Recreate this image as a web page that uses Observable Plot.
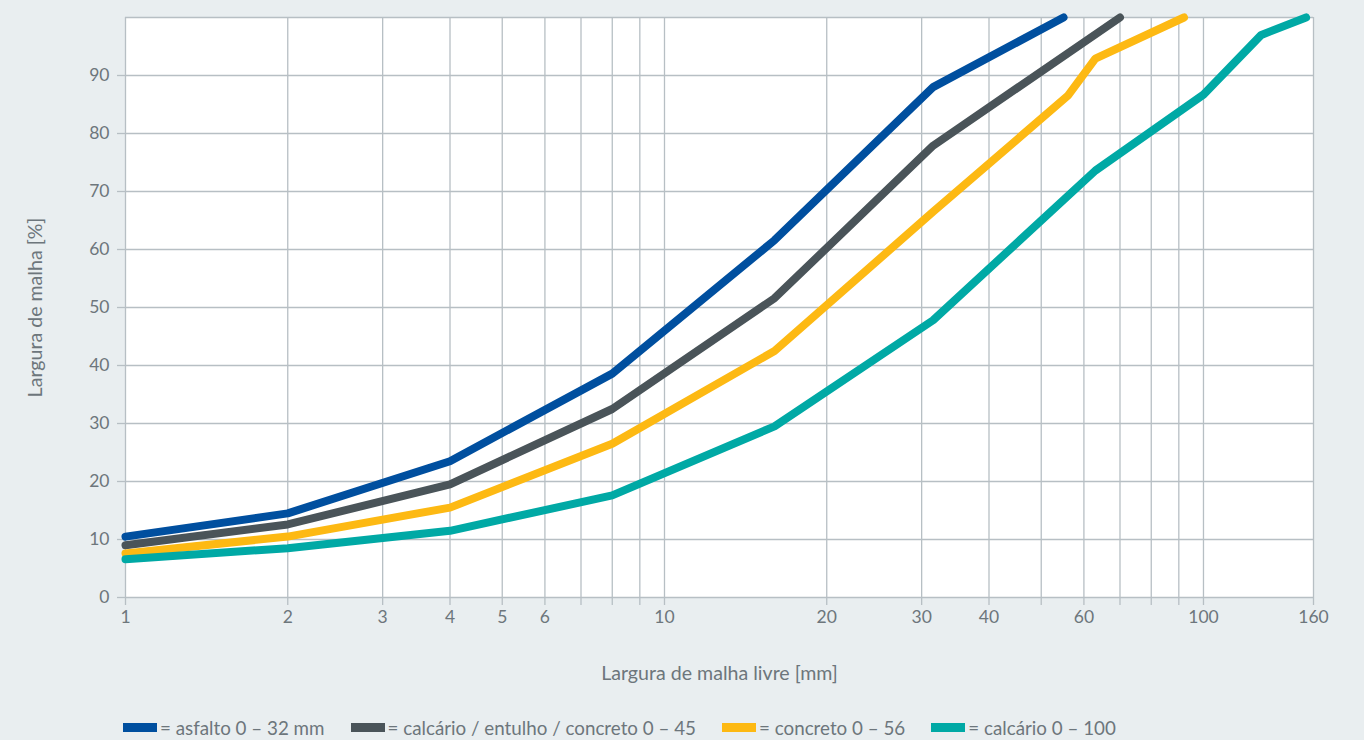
<!DOCTYPE html>
<html>
<head>
<meta charset="utf-8">
<script src="https://cdn.jsdelivr.net/npm/d3@7"></script>
<script src="https://cdn.jsdelivr.net/npm/@observablehq/plot@0.6"></script>
<style>
  html, body { margin: 0; padding: 0; background: #e9eef0; }
  body { width: 1364px; height: 740px; overflow: hidden; font-family: Lato, "Open Sans", sans-serif; color: #6d767c; }
  #legend { position: absolute; left: 123px; top: 716px; height: 23px; display: flex; font-size: 18.8px; line-height: 23px; white-space: nowrap; }
  .item { display: flex; align-items: center; margin-right: 26px; }
  .sw { width: 34px; height: 9px; margin-right: 3px; }
  svg g[aria-label="x-axis label"] text, svg g[aria-label="y-axis label"] text { font-size: 19.6px; }
</style>
</head>
<body>
<div id="chart"></div>
<div id="legend"></div>
<script>
const seriesNames = ["asfalto 0 – 32 mm", "calcário / entulho / concreto 0 – 45", "concreto 0 – 56", "calcário 0 – 100"];
const seriesColors = ["#004f9f", "#4a5459", "#fdb913", "#00a9a5"];

const asfaltoX = [1, 2, 4, 8, 16, 31.5, 55];
const asfaltoY = [10.5, 14.5, 23.5, 38.6, 61.6, 88, 100];
const calcEntConcX = [1, 2, 4, 8, 16, 31.5, 70];
const calcEntConcY = [9, 12.6, 19.5, 32.5, 51.6, 77.9, 100];
const concretoX = [1, 2, 4, 8, 16, 31.5, 56, 63, 92];
const concretoY = [7.6, 10.5, 15.5, 26.5, 42.5, 66.5, 86.5, 92.9, 100];
const calcarioX = [1, 2, 4, 8, 16, 31.5, 63, 100, 128, 155];
const calcarioY = [6.6, 8.5, 11.5, 17.6, 29.5, 47.8, 73.6, 86.7, 97, 100];

const xGrid = [1, 2, 3, 4, 5, 6, 7, 8, 9, 10, 20, 30, 40, 50, 60, 70, 80, 90, 100, 160];
const xLabels = [1, 2, 3, 4, 5, 6, 8, 10, 20, 30, 40, 60, 80, 100, 160];
const yGrid = [0, 10, 20, 30, 40, 50, 60, 70, 80, 90, 100];
const yLabels = [0, 10, 20, 30, 40, 50, 60, 70, 80, 90];

const xs = [asfaltoX, calcEntConcX, concretoX, calcarioX];
const ys = [asfaltoY, calcEntConcY, concretoY, calcarioY];
const data = [];
seriesNames.forEach((name, i) => {
  xs[i].forEach((x, j) => data.push({series: name, x, y: ys[i][j]}));
});

const gridColor = "#b7bfc4";
const textColor = "#6d767c";

const chart = Plot.plot({
  width: 1364,
  height: 700,
  marginLeft: 125,
  marginRight: 51,
  marginTop: 17,
  marginBottom: 103,
  style: {fontFamily: "Lato, 'Open Sans', sans-serif", fontSize: "17.5px", color: textColor, background: "transparent"},
  x: {type: "log", domain: [1, 160]},
  y: {domain: [0, 100]},
  color: {domain: seriesNames, range: seriesColors},
  marks: [
    Plot.frame({fill: "white", stroke: null}),
    Plot.gridX(xGrid, {stroke: gridColor, strokeOpacity: 1, strokeWidth: 1.3}),
    Plot.gridY(yGrid, {stroke: gridColor, strokeOpacity: 1, strokeWidth: 1.3}),
    Plot.axisX(xGrid, {
      tickSize: 8, tickPadding: 5, stroke: gridColor, strokeWidth: 1.3, fill: textColor, fontSize: 17.5,
      tickFormat: d => xLabels.includes(d) ? String(d) : "",
      label: "Largura de malha livre [mm]", labelAnchor: "center", labelOffset: 82, labelArrow: "none"
    }),
    Plot.axisY(yLabels, {
      tickSize: 8, tickPadding: 8, stroke: gridColor, strokeWidth: 1.3, fill: textColor, fontSize: 17.5,
      label: "Largura de malha [%]", labelAnchor: "center", labelOffset: 97, labelArrow: "none"
    }),
    Plot.line(data, {x: "x", y: "y", z: "series", stroke: "series", strokeWidth: 8, strokeLinecap: "round", strokeLinejoin: "miter"})
  ]
});
document.getElementById("chart").appendChild(chart);

const legend = document.getElementById("legend");
seriesNames.forEach((name, i) => {
  const item = document.createElement("div");
  item.className = "item";
  const sw = document.createElement("div");
  sw.className = "sw";
  sw.style.background = seriesColors[i];
  const t = document.createElement("span");
  t.textContent = "= " + name;
  item.appendChild(sw);
  item.appendChild(t);
  legend.appendChild(item);
});
</script>
</body>
</html>
